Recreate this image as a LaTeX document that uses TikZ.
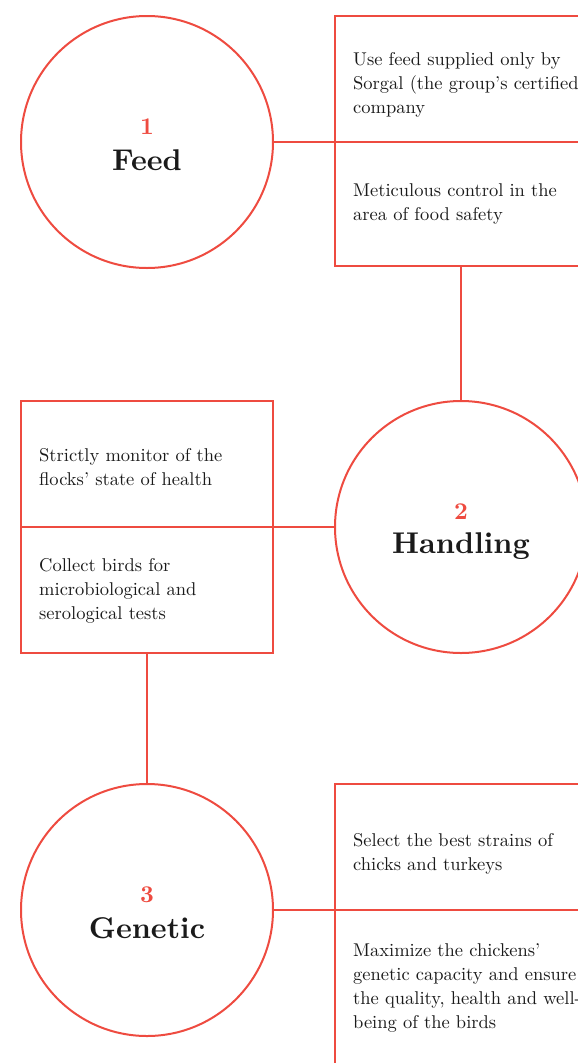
\documentclass[tikz,border=0pt]{standalone}
\usepackage{fontspec}
\setmainfont{lmroman10-regular.otf}[BoldFont=lmroman10-bold.otf, ItalicFont=lmroman10-italic.otf]
\usepackage{xcolor}
\usepackage{tikz}
\usetikzlibrary{positioning}
\definecolor{flowred}{HTML}{EE4B40}
\definecolor{inkblack}{HTML}{1A1A1A}

\begin{document}
\begin{tikzpicture}[x=1pt, y=-1pt,
    stage/.style={circle, draw=flowred, line width=2pt, minimum size=252pt, inner sep=0pt, outer sep=0pt},
    cell/.style={rectangle, draw=flowred, line width=2pt, minimum width=252pt, minimum height=126pt, inner sep=0pt, outer sep=0pt},
    link/.style={draw=flowred, line width=2pt},
    note/.style={font=\fontsize{18.5}{24}\selectfont, align=left, inner sep=0pt, text=inkblack},
    stagenum/.style={font=\fontsize{24}{26}\selectfont\bfseries, text=flowred, inner sep=0pt},
    stagename/.style={font=\fontsize{30}{32}\selectfont\bfseries, text=inkblack, inner sep=0pt}]

\useasboundingbox (0,0) rectangle (578,1063);
\clip (0,0) rectangle (578,1063);

% ── STEP 1: FEED ──────────────────────────────────────────────────
\node[stage] (feed) at (147,142) {};
\node[stagenum] (feednum) at ([yshift=15pt]feed.center) {1};
\node[stagename] (feedname) at ([yshift=-18pt]feed.center) {Feed};

\node[cell, anchor=south west] (feedA) at (335,142) {};
\node[cell, anchor=north west, minimum height=124pt] (feedB) at (335,142) {};
\node[note, right=18pt of feedA.west, yshift=-6pt] (feedAtxt)
    {Use feed supplied only by\\Sorgal (the group's certified\\company};
\node[note, right=18pt of feedB.west] (feedBtxt)
    {Meticulous control in the\\area of food safety};

% ── STEP 2: HANDLING ──────────────────────────────────────────────
\node[stage] (handling) at (461,527) {};
\node[stagenum] (handnum) at ([yshift=15pt]handling.center) {2};
\node[stagename] (handname) at ([yshift=-19pt]handling.center) {Handling};

\node[cell, anchor=south east] (handA) at (273,527) {};
\node[cell, anchor=north east] (handB) at (273,527) {};
\node[note, right=18pt of handA.west, yshift=-3pt] (handAtxt)
    {Strictly monitor of the\\flocks' state of health};
\node[note, right=18pt of handB.west, yshift=-1pt] (handBtxt)
    {Collect birds for\\microbiological and\\serological tests};

% ── STEP 3: GENETIC ───────────────────────────────────────────────
\node[stage] (genetic) at (147,910) {};
\node[stagenum] (gennum) at ([yshift=15pt]genetic.center) {3};
\node[stagename] (genname) at ([yshift=-18pt]genetic.center) {Genetic};

\node[cell, anchor=south west] (genA) at (335,910) {};
\node[cell, anchor=north west, minimum height=156pt] (genB) at (335,910) {};
\node[note, right=18pt of genA.west, yshift=-7pt] (genAtxt)
    {Select the best strains of\\chicks and turkeys};
\node[note, right=18pt of genB.west] (genBtxt)
    {Maximize the chickens'\\genetic capacity and ensure\\the quality, health and well-\\being of the birds};

% Links
\draw[link] (feed) -- (feedA.south west);
\draw[link] (feedB.south) -- (handling);
\draw[link] (handA.south east) -- (handling);
\draw[link] (handB.south) -- (genetic);
\draw[link] (genetic) -- (genA.south west);

\end{tikzpicture}
\end{document}
